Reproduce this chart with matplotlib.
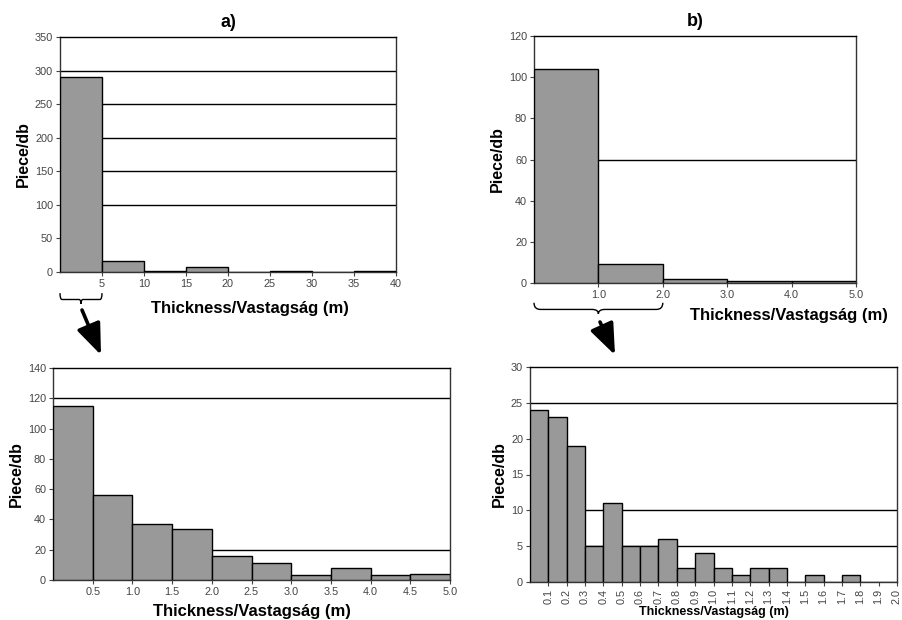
import matplotlib.pyplot as plt
import numpy as np
from matplotlib.path import Path
from matplotlib.patches import PathPatch, FancyArrowPatch
import matplotlib.transforms as mtransforms

plt.rcParams['font.family'] = ['Liberation Sans', 'DejaVu Sans']

# panel a, top: 5 m classes
a_edges = [0, 5, 10, 15, 20, 25, 30, 35]
a_counts = [290, 17, 2, 8, 0, 2, 0, 2]
a_ticks = [5, 10, 15, 20, 25, 30, 35, 40]
a_grid = [100, 150, 200, 250, 300]

# panel a, bottom: 0.5 m classes
a2_edges = [0, 0.5, 1.0, 1.5, 2.0, 2.5, 3.0, 3.5, 4.0, 4.5]
a2_counts = [115, 56, 37, 34, 16, 11, 3, 8, 3, 4]
a2_ticks = [0.5, 1.0, 1.5, 2.0, 2.5, 3.0, 3.5, 4.0, 4.5, 5.0]
a2_grid = [120, 20]

# panel b, top: 1 m classes
b_edges = [0, 1, 2, 3, 4]
b_counts = [104, 9, 2, 1, 1]
b_ticks = [1.0, 2.0, 3.0, 4.0, 5.0]
b_grid = [60]

# panel b, bottom: 0.1 m classes
b2_edges = [i / 10 for i in range(20)]
b2_counts = [24, 23, 19, 5, 11, 5, 5, 6, 2, 4, 2, 1, 2, 2, 0, 1, 0, 1, 0, 0]
b2_ticks = [(i + 1) / 10 for i in range(20)]
b2_grid = [25, 10, 5]

W, H = 902, 620
fig = plt.figure(figsize=(W / 100, H / 100), dpi=100)


def px_axes(x0, y0, x1, y1):
    return fig.add_axes([x0 / W, 1 - y1 / H, (x1 - x0) / W, (y1 - y0) / H])


def hist_panel(ax, edges, counts, width, xmax, ymax, ystep, ticks, grid, fmt):
    ax.bar(edges, counts, width=width, align='edge', color='#999999',
           edgecolor='black', linewidth=1.0, zorder=3)
    for g in grid:
        ax.axhline(g, color='black', linewidth=1.0, zorder=1)
    ax.set_xlim(0, xmax)
    ax.set_ylim(0, ymax)
    ax.set_yticks(np.arange(0, ymax + ystep / 2, ystep))
    ax.set_xticks(ticks)
    ax.set_xticklabels([fmt.format(t) for t in ticks])
    ax.tick_params(labelsize=7.8, labelcolor='#444444', length=3, width=0.8,
                   color='#444444', pad=2)
    for s in ax.spines.values():
        s.set_color('#333333')
        s.set_linewidth(1.0)
    ax.spines['top'].set_color('black')
    ax.set_ylabel('Piece/db', fontsize=11.5, fontweight='bold', labelpad=3)


def brace(ax, x0, x1, y0, depth):
    # curly brace under the axis, x in data, y in axes coords
    tr = mtransforms.blended_transform_factory(ax.transData, ax.transAxes)
    xm = (x0 + x1) / 2
    d = depth
    e = (x1 - x0) * 0.05
    verts = [(x0, y0), (x0, y0 - d * 0.6), (x0 + e, y0 - d * 0.6),
             (xm - e, y0 - d * 0.6), (xm, y0 - d * 0.6), (xm, y0 - d),
             (xm, y0 - d * 0.6), (xm + e, y0 - d * 0.6),
             (x1 - e, y0 - d * 0.6), (x1, y0 - d * 0.6), (x1, y0)]
    codes = [Path.MOVETO, Path.CURVE3, Path.CURVE3, Path.LINETO, Path.CURVE3, Path.CURVE3,
             Path.CURVE3, Path.CURVE3, Path.LINETO, Path.CURVE3, Path.CURVE3]
    ax.add_patch(PathPatch(Path(verts, codes), transform=tr, fill=False,
                           edgecolor='black', linewidth=1.0, clip_on=False))


def arrow(x0, y0, x1, y1):
    fig.patches.append(FancyArrowPatch((x0 / W, 1 - y0 / H), (x1 / W, 1 - y1 / H),
                                       transform=fig.transFigure,
                                       arrowstyle='-|>,head_length=19,head_width=7.5',
                                       mutation_scale=1, shrinkA=0, shrinkB=0,
                                       color='black', linewidth=2.6))


# a) top
ax1 = px_axes(60, 37, 396, 272)
hist_panel(ax1, a_edges, a_counts, 5, 40, 350, 50, a_ticks, a_grid, '{:g}')
ax1.set_xlabel('Thickness/Vastagság (m)', fontsize=12, fontweight='bold')
ax1.xaxis.set_label_coords(0.565, -0.125, transform=ax1.transAxes)
ax1.xaxis.label.set_va('top')
ax1.set_title('a)', fontsize=13, fontweight='bold', pad=7)
brace(ax1, 0, 5, -0.09, 0.045)
arrow(82, 310, 101, 355)

# b) top
ax2 = px_axes(534, 36, 856, 283)
hist_panel(ax2, b_edges, b_counts, 1, 5, 120, 20, b_ticks, b_grid, '{:.1f}')
ax2.set_xlabel('Thickness/Vastagság (m)', fontsize=12, fontweight='bold')
ax2.xaxis.set_label_coords(1.1, -0.1, transform=ax2.transAxes)
ax2.xaxis.label.set_ha('right')
ax2.set_title('b)', fontsize=13, fontweight='bold', pad=7)
brace(ax2, 0, 2, -0.08, 0.045)
arrow(600, 322, 615, 355)

# a) bottom
ax3 = px_axes(53, 368, 450, 580)
hist_panel(ax3, a2_edges, a2_counts, 0.5, 5, 140, 20, a2_ticks, a2_grid, '{:.1f}')
ax3.set_xlabel('Thickness/Vastagság (m)', fontsize=12, fontweight='bold', labelpad=5)

# b) bottom
ax4 = px_axes(530, 367, 897, 582)
hist_panel(ax4, b2_edges, b2_counts, 0.1, 2.0, 30, 5, b2_ticks, b2_grid, '{:.1f}')
ax4.tick_params(axis='x', labelrotation=90)
ax4.set_xlabel('Thickness/Vastagság (m)', fontsize=9, fontweight='bold', labelpad=1)

fig.savefig('out.png', dpi=100)
